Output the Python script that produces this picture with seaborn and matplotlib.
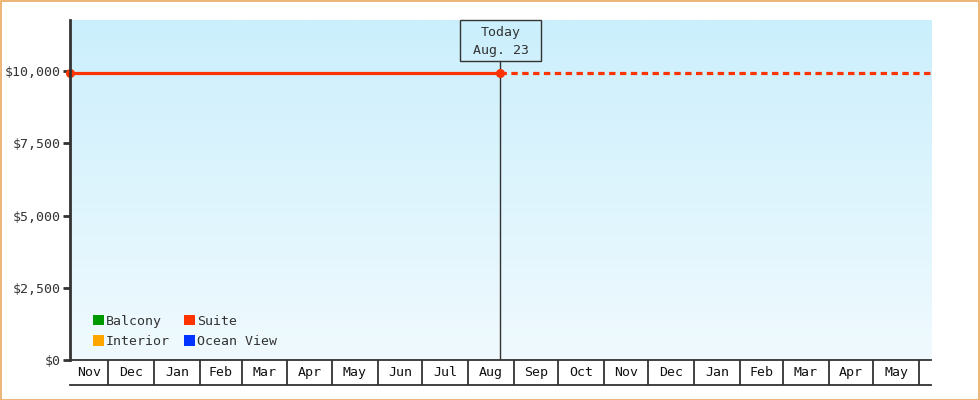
import matplotlib
matplotlib.use("Agg")
import matplotlib.pyplot as plt
import matplotlib.dates as mdates
from matplotlib.patches import Rectangle, Patch
from matplotlib.colors import LinearSegmentedColormap
import seaborn as sns
import pandas as pd
import numpy as np

# ---------------- data ----------------
series_names = ["Balcony", "Interior", "Suite", "Ocean View"]
series_colors = ["#009900", "#FFA500", "#FF3300", "#0033FF"]

suite_dates = ["2022-11-05", "2023-08-23"]
suite_values = [9920, 9920]
forecast_dates = ["2023-08-23", "2024-06-09"]
forecast_values = [9920, 9920]

y_ticks = [0, 2500, 5000, 7500, 10000]
y_tick_labels = ["$0", "$2,500", "$5,000", "$7,500", "$10,000"]

today_date = "2023-08-23"
today_label = "Today\nAug. 23"
axis_start = "2022-11-05"
axis_end = "2024-06-09"
y_max = 11765

# ---------------- style ----------------
sns.set_style("white")
plt.rcParams["font.family"] = ["DejaVu Sans Mono", "DejaVu Sans"]
TXT = "#333333"
FS = 9.5

W, H = 980, 400
fig = plt.figure(figsize=(W / 100, H / 100), dpi=100)
fig.patch.set_facecolor("white")
fig.patches.append(Rectangle((0.5 / W, 0.5 / H), 1 - 1.5 / W, 1 - 1.5 / H,
                             transform=fig.transFigure, fill=False,
                             edgecolor="#EBA95F", linewidth=1.2))

L, R, T, B = 70, 931, 20, 360
ax = fig.add_axes([L / W, 1 - B / H, (R - L) / W, (B - T) / H])

x0, x1 = pd.Timestamp(axis_start), pd.Timestamp(axis_end)
today = pd.Timestamp(today_date)

# gradient background
cmap = LinearSegmentedColormap.from_list("bg", ["#F0FAFE", "#CBEFFC"])
grad = np.linspace(0, 1, 256).reshape(-1, 1)
ax.imshow(grad, extent=[0, 1, 0, 1], transform=ax.transAxes, aspect="auto",
          cmap=cmap, origin="lower", zorder=0)

df_actual = pd.DataFrame({"date": pd.to_datetime(suite_dates), "price": suite_values})
df_fore = pd.DataFrame({"date": pd.to_datetime(forecast_dates), "price": forecast_values})

red = series_colors[series_names.index("Suite")]
sns.lineplot(data=df_actual, x="date", y="price", ax=ax, color=red,
             linewidth=2.3, marker="o", markersize=6.5, markeredgewidth=0,
             clip_on=False, zorder=5)
sns.lineplot(data=df_fore, x="date", y="price", ax=ax, color=red,
             linewidth=2.3, zorder=4)
ax.lines[-1].set_dashes((2.0, 1.4))

ax.set_xlim(x0, x1)
ax.set_ylim(0, y_max)
ax.set_xlabel("")
ax.set_ylabel("")
ax.set_xticks([])
ax.set_yticks(y_ticks)
ax.set_yticklabels(y_tick_labels, fontsize=FS, color=TXT)
ax.tick_params(axis="y", direction="out", length=5, width=2, color=TXT, pad=2, left=True)
for s in ["top", "right", "bottom"]:
    ax.spines[s].set_visible(False)
ax.spines["left"].set_color(TXT)
ax.spines["left"].set_linewidth(2)
ax.spines["left"].set_zorder(6)

# today marker + box
box_h = 41 / (B - T)
box_w = 81 / (R - L)
frac = (today - x0) / (x1 - x0)
ax.axvline(today, ymin=0, ymax=1 - box_h, color=TXT, linewidth=1, zorder=3)
ax.add_patch(Rectangle((frac - box_w / 2, 1 - box_h), box_w, box_h,
                       transform=ax.transAxes, fill=False, edgecolor=TXT,
                       linewidth=1, clip_on=False, zorder=6))
ax.text(frac, 1 - box_h / 2 - 1.0 / (B - T), today_label, transform=ax.transAxes,
        ha="center", va="center", fontsize=FS, color=TXT, linespacing=1.45, zorder=7)

# legend
handles = [Patch(facecolor=c, edgecolor="none", label=n)
           for n, c in zip(series_names, series_colors)]
leg = ax.legend(handles=handles, ncol=2, loc="lower left",
                bbox_to_anchor=((96 - L) / (R - L) - 0.004, (B - 348) / (B - T)),
                frameon=False, fontsize=FS, handlelength=0.85, handleheight=0.85,
                handletextpad=0.15, columnspacing=1.05, labelspacing=0.55,
                borderpad=0, borderaxespad=0)
for t in leg.get_texts():
    t.set_color(TXT)

# month strip
ax2 = fig.add_axes([L / W, 1 - 385 / H, (R - L) / W, 25 / H])
ax2.set_xlim(x0, x1)
ax2.set_ylim(0, 1)
ax2.set_xticks([])
ax2.set_yticks([])
ax2.set_facecolor("none")
for s in ["left", "right"]:
    ax2.spines[s].set_visible(False)
for s in ["top", "bottom"]:
    ax2.spines[s].set_color(TXT)
    ax2.spines[s].set_linewidth(1.3)
bounds = pd.date_range(x0.normalize() + pd.offsets.MonthBegin(1), x1, freq="MS")
for b in bounds:
    ax2.axvline(b, color=TXT, linewidth=1.3)
edges = [x0] + list(bounds) + [x1]
for a, b in zip(edges[:-1], edges[1:]):
    if (b - a).days >= 15:
        mid = a + (b - a) / 2
        ax2.text(mid, 0.5, a.strftime("%b"), ha="center", va="center",
                 fontsize=FS, color="#111111")

fig.savefig("out.png", dpi=100, facecolor="white")
